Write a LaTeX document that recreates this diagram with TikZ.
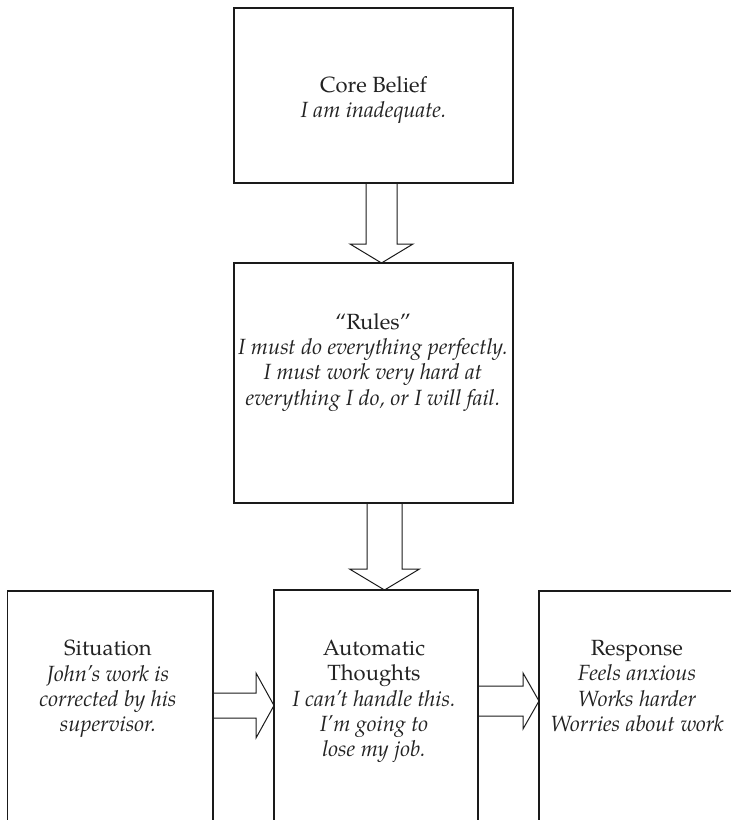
\documentclass[tikz,border=0pt]{standalone}
\usepackage{fontspec}
\setmainfont{TeX Gyre Pagella}
\usetikzlibrary{calc}

\definecolor{ink}{HTML}{222222}
\definecolor{rule}{HTML}{1A1A1A}

% hollow block arrow pointing down, from #1 to #2:
% #3 x offset, #4 shaft half width, #5 head half width, #6 head length
\newcommand\vblockarrow[6]{%
  \draw[blockarrow] let \p1=(#1), \p2=(#2) in
    ({\x1+#3pt-#4pt},\y1) -- ({\x1+#3pt-#4pt},{\y2+#6pt})
    -- ({\x1+#3pt-#5pt},{\y2+#6pt}) -- ({\x1+#3pt},\y2)
    -- ({\x1+#3pt+#5pt},{\y2+#6pt}) -- ({\x1+#3pt+#4pt},{\y2+#6pt})
    -- ({\x1+#3pt+#4pt},\y1);}
% hollow block arrow pointing right, from #1 to #2:
% #3 y offset, #4 shaft half width, #5 head half width, #6 head length
\newcommand\hblockarrow[6]{%
  \draw[blockarrow] let \p1=(#1), \p2=(#2) in
    (\x1,{\y1+#3pt+#4pt}) -- ({\x2-#6pt},{\y1+#3pt+#4pt})
    -- ({\x2-#6pt},{\y1+#3pt+#5pt}) -- (\x2,{\y1+#3pt})
    -- ({\x2-#6pt},{\y1+#3pt-#5pt}) -- ({\x2-#6pt},{\y1+#3pt-#4pt})
    -- (\x1,{\y1+#3pt-#4pt});}

\tikzset{
  box/.style={draw=rule, line width=1.1pt, rectangle, inner sep=0pt, outer sep=0pt},
  blockarrow/.style={draw=rule, line width=1pt, line join=miter},
  label/.style={text=ink, align=center, inner sep=0pt, anchor=north,
    font=\fontsize{22}{25.3}\selectfont},
}

\begin{document}
\begin{tikzpicture}[x=1pt, y=-1pt]
  \useasboundingbox (0,0) rectangle (731,820);
  \clip (0,0) rectangle (731,820);

  % boxes
  \node[box, minimum width=279pt, minimum height=175pt] (core) at (373.5,95.5) {};
  \node[box, minimum width=279pt, minimum height=240pt] (rules) at (373.5,383) {};
  \node[box, minimum width=205.5pt, minimum height=289pt] (situation) at (110.25,735.5) {};
  \node[box, minimum width=204pt, minimum height=290pt] (auto) at (376,735) {};
  \node[box, minimum width=205pt, minimum height=289pt] (response) at (641.5,735.5) {};

  % texts
  \node[label] (coretext) at (373.5,76) {Core Belief\\\textit{I am inadequate.}};
  \node[label] (rulestext) at (373,313) {“Rules”\\\textit{I must do everything perfectly.}\\
    \textit{I must work very hard at}\\\textit{everything I do, or I will fail.}};
  \node[label] (situationtext) at (108,640) {Situation\\\textit{John’s work is}\\
    \textit{corrected by his}\\\textit{supervisor.}};
  \node[label] (autotext) at (374,640) {Automatic\\Thoughts\\\textit{I can’t handle this.}\\
    \textit{I’m going to}\\\textit{lose my job.}};
  \node[label] (responsetext) at (637,640) {Response\\\textit{Feels anxious}\\
    \textit{Works harder}\\\textit{Worries about work}};

  % connectors
  \vblockarrow{core.south}{rules.north}{8}{15.5}{31.5}{19}
  \vblockarrow{rules.south}{auto.north}{11}{17.5}{35}{21}
  \hblockarrow{situation.east}{auto.west}{30}{12.5}{32.5}{18}
  \hblockarrow{auto.east}{response.west}{34}{15}{28}{16}
\end{tikzpicture}
\end{document}
